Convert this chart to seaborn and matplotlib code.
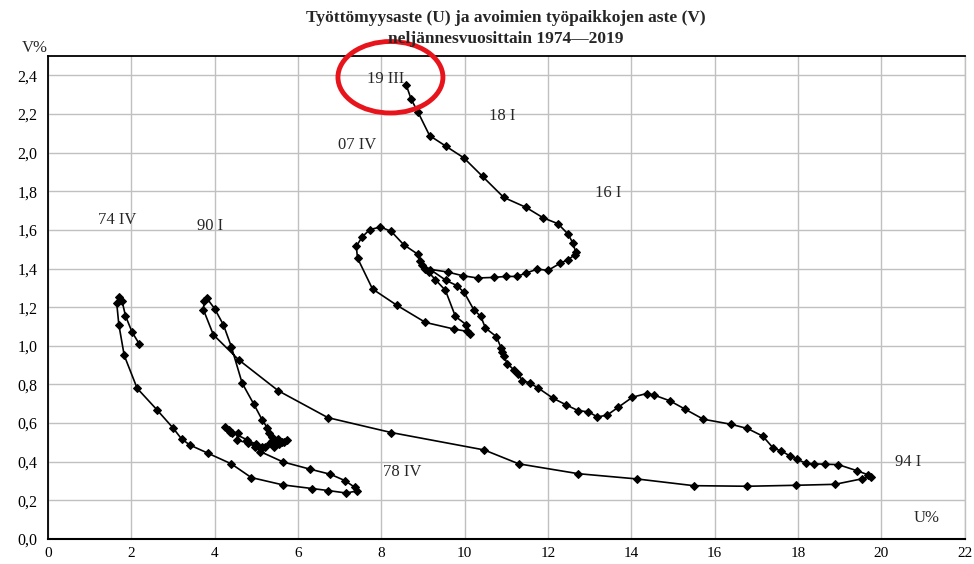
import numpy as np
import pandas as pd
import seaborn as sns
import matplotlib.pyplot as plt
from matplotlib.patches import Ellipse
from matplotlib.ticker import FuncFormatter, MultipleLocator

# ---------------- DATA ------------------
# quarterly path (U = unemployment %, V = vacancy %)
u_1974_1979 = [2.19, 2.02, 1.86, 1.78, 1.70, 1.65, 1.70, 1.83, 2.14, 2.61, 3.00, 3.21, 3.41, 3.84,
               4.40, 4.88, 5.64, 6.34, 6.72, 7.16, 7.42, 7.36, 7.13, 6.78, 6.28, 5.64, 5.10]
v_1974_1979 = [1.01, 1.07, 1.155, 1.23, 1.25, 1.22, 1.11, 0.95, 0.78, 0.67, 0.575, 0.517, 0.486, 0.444,
               0.389, 0.318, 0.280, 0.261, 0.251, 0.238, 0.249, 0.268, 0.302, 0.335, 0.362, 0.399, 0.452]

u_1980_1990 = [4.98, 4.80, 4.53, 4.56, 4.42, 4.34, 4.26, 4.38, 4.78, 5.00, 5.14, 5.22, 5.34, 5.42,
               5.50, 5.62, 5.74, 5.66, 5.55, 5.45, 5.38, 5.52, 5.38, 5.30, 5.26, 5.14, 4.94, 4.66,
               4.40, 4.21, 4.00, 3.81, 3.75, 3.73, 3.97]
v_1980_1990 = [0.478, 0.496, 0.513, 0.551, 0.551, 0.565, 0.580, 0.556, 0.513, 0.490, 0.478, 0.478, 0.496, 0.478,
               0.504, 0.504, 0.513, 0.500, 0.490, 0.490, 0.505, 0.520, 0.530, 0.550, 0.577, 0.617, 0.698, 0.807,
               0.996, 1.109, 1.192, 1.247, 1.233, 1.187, 1.057]

u_1990_1994 = [4.58, 5.53, 6.72, 8.24, 10.47, 11.30, 12.73, 14.13, 15.50, 16.79, 17.95, 18.89, 19.55, 19.75]
v_1990_1994 = [0.927, 0.767, 0.628, 0.551, 0.461, 0.389, 0.338, 0.311, 0.276, 0.273, 0.278, 0.283, 0.312, 0.323]

u_1994_2001 = [19.69, 19.41, 18.97, 18.65, 18.39, 18.19, 17.98, 17.81, 17.60, 17.41, 17.16, 16.79, 16.39,
               15.73, 15.29, 14.93, 14.55, 14.37, 14.03, 13.69, 13.42, 13.19, 12.97, 12.72, 12.44, 12.12,
               11.77, 11.56, 11.39, 11.28, 11.18, 11.03, 10.94, 10.90, 10.88, 10.76, 10.50, 10.39, 10.22,
               9.99, 9.82, 9.56, 9.18, 8.98, 8.94]
v_1994_2001 = [0.332, 0.354, 0.385, 0.387, 0.389, 0.392, 0.413, 0.430, 0.456, 0.470, 0.532, 0.572, 0.594,
               0.620, 0.672, 0.715, 0.745, 0.753, 0.734, 0.682, 0.641, 0.632, 0.658, 0.665, 0.694, 0.729,
               0.781, 0.808, 0.820, 0.855, 0.876, 0.907, 0.945, 0.970, 0.988, 1.048, 1.092, 1.152, 1.187,
               1.276, 1.311, 1.338, 1.394, 1.420, 1.437]

u_2002_2011 = [8.87, 8.54, 8.24, 7.98, 7.72, 7.54, 7.40, 7.43, 7.79, 8.38, 9.06, 9.74, 10.05, 10.12,
               10.04, 9.78, 9.54, 9.30, 9.14, 9.05]
v_2002_2011 = [1.475, 1.523, 1.592, 1.615, 1.601, 1.563, 1.515, 1.454, 1.294, 1.209, 1.121, 1.087, 1.075, 1.062,
               1.109, 1.152, 1.287, 1.342, 1.380, 1.400]

u_2012_2019 = [9.59, 9.95, 10.31, 10.70, 10.99, 11.26, 11.48, 11.75, 12.00, 12.30, 12.49, 12.65, 12.67,
               12.60, 12.48, 12.24, 11.89, 11.47, 10.94, 10.43, 9.98, 9.55, 9.16, 8.88, 8.72, 8.60]
v_2012_2019 = [1.382, 1.363, 1.351, 1.354, 1.359, 1.359, 1.377, 1.397, 1.390, 1.428, 1.446, 1.472, 1.483,
               1.532, 1.579, 1.632, 1.662, 1.717, 1.768, 1.877, 1.973, 2.033, 2.088, 2.210, 2.275, 2.349]

quarter_labels = ["74 IV", "90 I", "78 IV", "94 I", "07 IV", "16 I", "18 I", "19 III"]
label_u = [1.65, 3.88, 8.50, 20.65, 7.42, 13.45, 10.90, 8.10]
label_v = [1.65, 1.62, 0.345, 0.40, 2.04, 1.79, 2.19, 2.38]

u_all = u_1974_1979 + u_1980_1990 + u_1990_1994 + u_1994_2001 + u_2002_2011 + u_2012_2019
v_all = v_1974_1979 + v_1980_1990 + v_1990_1994 + v_1994_2001 + v_2002_2011 + v_2012_2019
df = pd.DataFrame({"U": u_all, "V": v_all})

# ---------------- PLOT ------------------
sns.set_style("white")
plt.rcParams['font.family'] = ['Liberation Serif', 'DejaVu Serif']

fig = plt.figure(figsize=(9.74, 5.64), dpi=100)
ax = fig.add_axes([48 / 974, 1 - 539 / 564, (964.5 - 48) / 974, (539 - 56) / 564])

sns.lineplot(data=df, x="U", y="V", sort=False, estimator=None, ax=ax,
             color="black", linewidth=1.2, marker="D", markersize=4.5,
             markeredgecolor="black", markerfacecolor="black")

ax.set_xlim(0, 22)
ax.set_ylim(0, 2.5)
ax.xaxis.set_major_locator(MultipleLocator(2))
ax.yaxis.set_major_locator(MultipleLocator(0.2))
ax.yaxis.set_major_formatter(FuncFormatter(lambda v, p: f"{v:.1f}".replace(".", ",") if v < 2.45 else ""))
ax.grid(True, color="#c0c0c0", linewidth=1)
ax.set_axisbelow(True)
ax.set_xlabel("")
ax.set_ylabel("")
for s in ax.spines.values():
    s.set_color("black")
    s.set_linewidth(1)
ax.spines["right"].set_color("#c0c0c0")
ax.spines["bottom"].set_linewidth(1.5)
ax.spines["left"].set_linewidth(1.3)
ax.spines["top"].set_linewidth(1.3)
ax.tick_params(axis="both", direction="out", length=4, width=1, labelsize=11.5, colors="black")
ax.tick_params(axis="x", pad=2, labelsize=11)

for txt, x, y in zip(quarter_labels, label_u, label_v):
    ax.text(x, y, txt, fontsize=12, ha="center", va="center")

fig.text(22 / 974, 1 - 48 / 564, "V%", fontsize=12, ha="left", va="center")
ax.text(21.1, 0.11, "U%", fontsize=12, ha="center", va="center")

title_x = 506 / 974
fig.text(title_x, 1 - 18 / 564, "Työttömyysaste (U) ja avoimien työpaikkojen aste (V)",
         fontsize=12.5, fontweight="bold", ha="center", va="center")
fig.text(title_x, 1 - 39 / 564, "neljännesvuosittain 1974\u20142019",
         fontsize=12.5, fontweight="bold", ha="center", va="center")

# red circle marking the latest quarter
ax.add_patch(Ellipse((8.22, 2.39), 2.52, 0.37, fill=False, edgecolor="#e8141c",
                     linewidth=3.5, clip_on=False, zorder=10))

plt.savefig("out.png", dpi=100)
plt.close()
